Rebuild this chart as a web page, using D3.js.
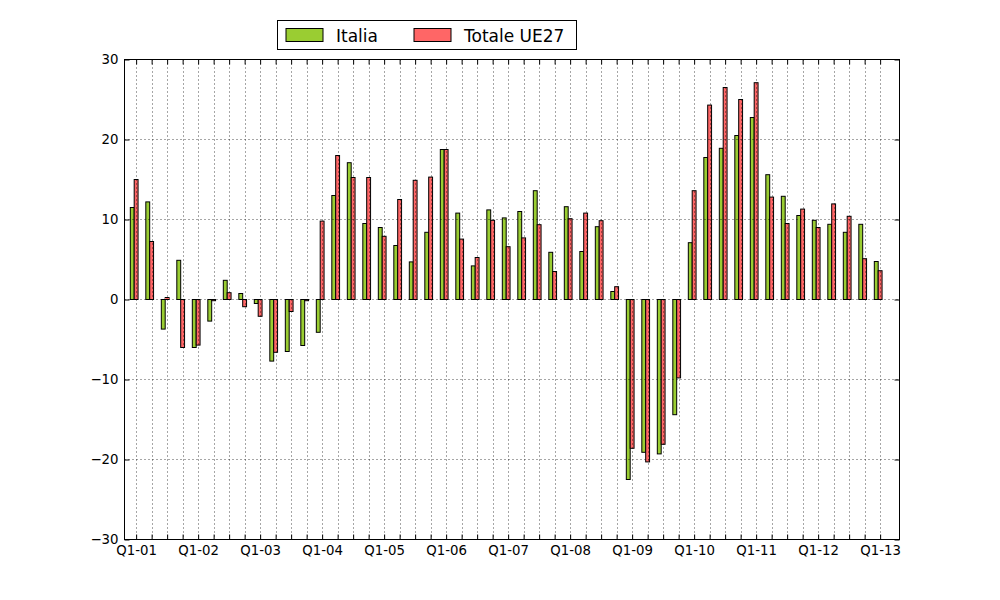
<!DOCTYPE html>
<html>
<head>
<meta charset="utf-8">
<script src="https://cdn.jsdelivr.net/npm/d3@7"></script>
<style>
  body { margin: 0; background: #fff; }
  text { font-family: "DejaVu Sans", sans-serif; }
</style>
</head>
<body>
<div id="chart"></div>
<script>
const quarters = [
  'Q1-01', 'Q2-01', 'Q3-01', 'Q4-01', 'Q1-02', 'Q2-02', 'Q3-02', 'Q4-02',
  'Q1-03', 'Q2-03', 'Q3-03', 'Q4-03', 'Q1-04', 'Q2-04', 'Q3-04', 'Q4-04',
  'Q1-05', 'Q2-05', 'Q3-05', 'Q4-05', 'Q1-06', 'Q2-06', 'Q3-06', 'Q4-06',
  'Q1-07', 'Q2-07', 'Q3-07', 'Q4-07', 'Q1-08', 'Q2-08', 'Q3-08', 'Q4-08',
  'Q1-09', 'Q2-09', 'Q3-09', 'Q4-09', 'Q1-10', 'Q2-10', 'Q3-10', 'Q4-10',
  'Q1-11', 'Q2-11', 'Q3-11', 'Q4-11', 'Q1-12', 'Q2-12', 'Q3-12', 'Q4-12',
  'Q1-13'
];

const italia = [
  11.5, 12.2, -3.7, 4.9, -6.0, -2.7, 2.4, 0.75,
  -0.5, -7.7, -6.5, -5.75, -4.1, 13.0, 17.1, 9.5,
  9.0, 6.75, 4.7, 8.4, 18.75, 10.8, 4.2, 11.2,
  10.2, 11.0, 13.6, 5.9, 11.6, 6.0, 9.1, 1.0,
  -22.5, -19.1, -19.3, -14.4, 7.1, 17.75, 18.9, 20.5,
  22.75, 15.6, 12.9, 10.5, 9.9, 9.4, 8.4, 9.4,
  4.75
];

const ue27 = [
  15.0, 7.25, 0.25, -6.0, -5.7, -0.15, 0.85, -0.9,
  -2.1, -6.6, -1.5, -0.15, 9.8, 18.0, 15.25, 15.25,
  7.9, 12.5, 14.9, 15.3, 18.75, 7.55, 5.25, 9.9,
  6.6, 7.7, 9.35, 3.5, 10.1, 10.8, 9.85, 1.6,
  -18.6, -20.3, -18.1, -9.8, 13.6, 24.3, 26.5, 25.0,
  27.1, 12.8, 9.5, 11.3, 9.0, 11.95, 10.4, 5.1,
  3.6
];

const seriesNames = ['Italia', 'Totale UE27'];
const seriesColors = ['#9acd32', '#ff6666'];
const yTicks = [-30, -20, -10, 0, 10, 20, 30];

const width = 1000;
const height = 600;
const plotLeft = 124.5, plotRight = 899.5, plotTop = 59.5, plotBottom = 539.5;
const barW = 0.25;

const x = d3.scaleLinear().domain([-0.75, 49.25]).range([plotLeft, plotRight]);
const y = d3.scaleLinear().domain([-30, 30]).range([plotBottom, plotTop]);

const svg = d3.select('#chart')
  .append('svg')
  .attr('width', width)
  .attr('height', height);

const data = quarters.map((q, i) => ({ i, q, vals: [italia[i], ue27[i]] }));

// bars: green left of the tick, red centred on it
seriesNames.forEach((name, s) => {
  svg.append('g')
    .selectAll('rect')
    .data(data)
    .enter()
    .append('rect')
    .attr('x', (d) => x(d.i - barW * 1.5 + s * barW))
    .attr('width', x(barW) - x(0))
    .attr('y', (d) => Math.min(y(d.vals[s]), y(0)))
    .attr('height', (d) => Math.abs(y(d.vals[s]) - y(0)))
    .style('fill', seriesColors[s])
    .style('stroke', '#000')
    .style('stroke-width', 1);
});

// dotted grid, drawn over the bars
const grid = svg.append('g')
  .style('stroke', '#000')
  .style('stroke-width', 0.7)
  .style('stroke-dasharray', '1,3');

grid.selectAll('.vgrid')
  .data(d3.range(quarters.length))
  .enter()
  .append('line')
  .attr('class', 'vgrid')
  .attr('x1', (d) => Math.round(x(d)) + 0.5)
  .attr('x2', (d) => Math.round(x(d)) + 0.5)
  .attr('y1', plotTop)
  .attr('y2', plotBottom);

grid.selectAll('.hgrid')
  .data(yTicks)
  .enter()
  .append('line')
  .attr('class', 'hgrid')
  .attr('x1', plotLeft)
  .attr('x2', plotRight)
  .attr('y1', (d) => y(d))
  .attr('y2', (d) => y(d));

const tickLen = 5;

const xAxis = svg.append('g')
  .attr('transform', `translate(0,${plotBottom})`)
  .call(d3.axisBottom(x)
    .tickValues(d3.range(quarters.length))
    .tickSize(-tickLen)
    .tickPadding(6)
    .tickFormat((i) => (quarters[i].startsWith('Q1') ? quarters[i] : '')));

svg.append('g')
  .attr('transform', `translate(0,${plotTop})`)
  .call(d3.axisTop(x)
    .tickValues(d3.range(quarters.length))
    .tickSize(-tickLen)
    .tickFormat(''));

const yAxis = svg.append('g')
  .attr('transform', `translate(${plotLeft},0)`)
  .call(d3.axisLeft(y)
    .tickValues(yTicks)
    .tickSize(-tickLen)
    .tickPadding(6)
    .tickFormat(d3.format('d')));

svg.append('g')
  .attr('transform', `translate(${plotRight},0)`)
  .call(d3.axisRight(y)
    .tickValues(yTicks)
    .tickSize(-tickLen)
    .tickFormat(''));

svg.selectAll('.domain').remove();
svg.selectAll('.tick line').style('stroke', '#000');
xAxis.selectAll('text').style('font-size', '13.3px').style('fill', '#000');
yAxis.selectAll('text').style('font-size', '13.3px').style('fill', '#000');

// axes frame
svg.append('rect')
  .attr('x', plotLeft)
  .attr('y', plotTop)
  .attr('width', plotRight - plotLeft)
  .attr('height', plotBottom - plotTop)
  .style('fill', 'none')
  .style('stroke', '#000')
  .style('stroke-width', 1);

// legend
const legend = svg.append('g').attr('transform', 'translate(277.5,20.5)');

legend.append('rect')
  .attr('width', 299)
  .attr('height', 29)
  .style('fill', '#fff')
  .style('stroke', '#000');

const legendX = [8.5, 136.5];
seriesNames.forEach((name, s) => {
  legend.append('rect')
    .attr('x', legendX[s])
    .attr('y', 8)
    .attr('width', 37)
    .attr('height', 13)
    .style('fill', seriesColors[s])
    .style('stroke', '#000');
  legend.append('text')
    .attr('x', legendX[s] + 50)
    .attr('y', 21.5)
    .style('font-size', '17px')
    .text(name);
});
</script>
</body>
</html>
